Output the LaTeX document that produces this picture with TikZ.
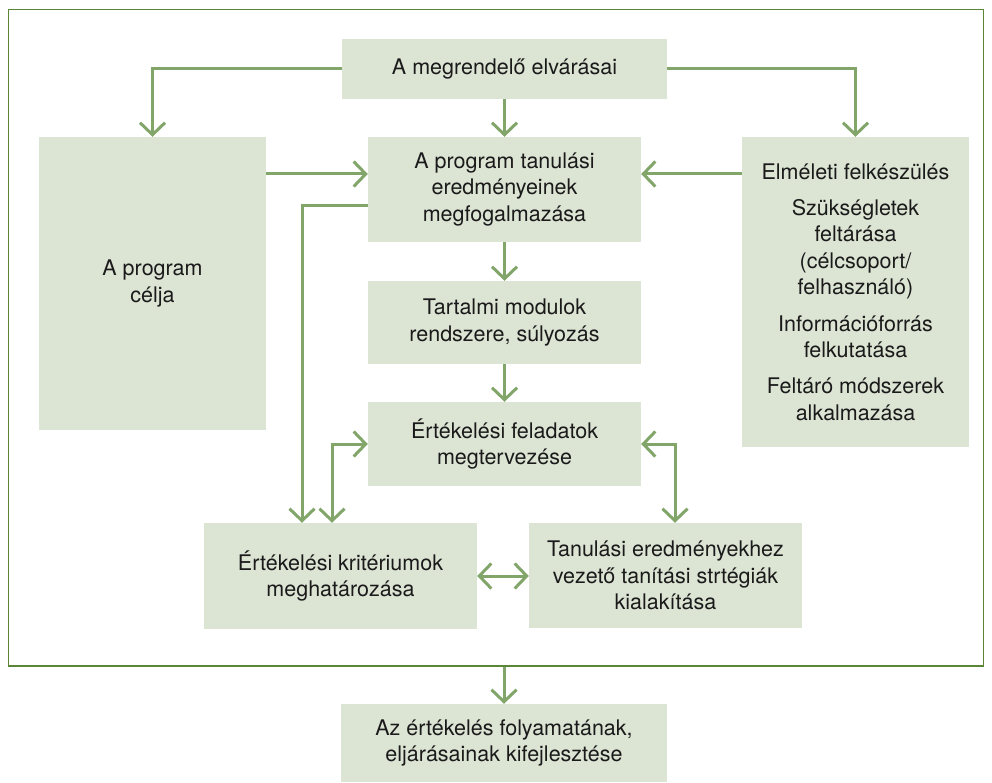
\documentclass[tikz,border=0pt]{standalone}
\usepackage{fontspec}
\setmainfont{TeX Gyre Heros}
\usetikzlibrary{arrows.meta}
\definecolor{boxfill}{HTML}{DCE4D4}
\definecolor{arrcol}{HTML}{82A56A}
\definecolor{framecol}{HTML}{5A8636}
\definecolor{txtcol}{HTML}{1A1A1A}
\tikzset{
  box/.style={rectangle, fill=boxfill, draw=none, inner sep=0pt, align=center,
    text=txtcol, font=\fontsize{21.5}{26.6}\selectfont},
  arr/.style={draw=arrcol, line width=3pt, -{Straight Barb[length=12pt,width=25pt]}},
  arrboth/.style={draw=arrcol, line width=3pt, {Straight Barb[length=12pt,width=25pt]}-{Straight Barb[length=12pt,width=25pt]}},
}
\begin{document}
\begin{tikzpicture}[x=1pt,y=-1pt]
\useasboundingbox (0,0) rectangle (992,783);
\node[draw=framecol, line width=1.4pt, minimum width=975pt, minimum height=656.5pt, inner sep=0pt] (frame) at (496,337.75) {};
\node[box, minimum width=325pt, minimum height=60pt] (top) at (504.5,69) {A megrendelő elvárásai};
\node[box, minimum width=227pt, minimum height=293pt] (celja) at (152.5,283.5) {A program\\célja};
\node[box, minimum width=273pt, minimum height=105pt] (tan) at (504.5,189.5) {A program tanulási\\eredményeinek\\megfogalmazása};
\node[box, minimum width=227pt, minimum height=310pt] (right) at (855.5,292) {Elméleti felkészülés\\[9.5pt]Szükségletek\\feltárása\\(célcsoport/\\felhasználó)\\[9.5pt]Információforrás\\felkutatása\\[9.5pt]Feltáró módszerek\\alkalmazása};
\node[box, minimum width=273pt, minimum height=83pt] (tart) at (504.5,322.5) {Tartalmi modulok\\rendszere, súlyozás};
\node[box, minimum width=273pt, minimum height=84pt] (fel) at (504.5,444) {Értékelési feladatok\\megtervezése};
\node[box, minimum width=273pt, minimum height=106pt] (krit) at (340.5,576) {Értékelési kritériumok\\meghatározása};
\node[box, minimum width=273pt, minimum height=105pt] (tanst) at (665.5,575.5) {Tanulási eredményekhez\\vezető tanítási strtégiák\\kialakítása};
\node[box, minimum width=326pt, minimum height=78pt] (bot) at (504,743) {Az értékelés folyamatának,\\eljárásainak kifejlesztése};
\coordinate (y174) at (0,174);
\coordinate (y206) at (0,206);
\coordinate (x302) at (302,0);
\coordinate (x332) at (332,0);
\coordinate (x675) at (675,0);
\draw[arr] (top.west) -| (celja.north);
\draw[arr] (top.east) -| (right.north);
\draw[arr] (top.south) -- (tan.north);
\draw[arr] (celja.east |- y174) -- (tan.west |- y174);
\draw[arr] (right.west |- y174) -- (tan.east |- y174);
\draw[arr] (tan.west |- y206) -| (x302 |- krit.north);
\draw[arr] (tan.south) -- (tart.north);
\draw[arr] (tart.south) -- (fel.north);
\draw[arrboth] (fel.west) -| (x332 |- krit.north);
\draw[arrboth] (fel.east) -| (x675 |- tanst.north);
\draw[arrboth] (krit.east) -- (tanst.west |- krit.east);
\draw[arr] (bot.north |- frame.south) -- (bot.north);
\end{tikzpicture}
\end{document}
